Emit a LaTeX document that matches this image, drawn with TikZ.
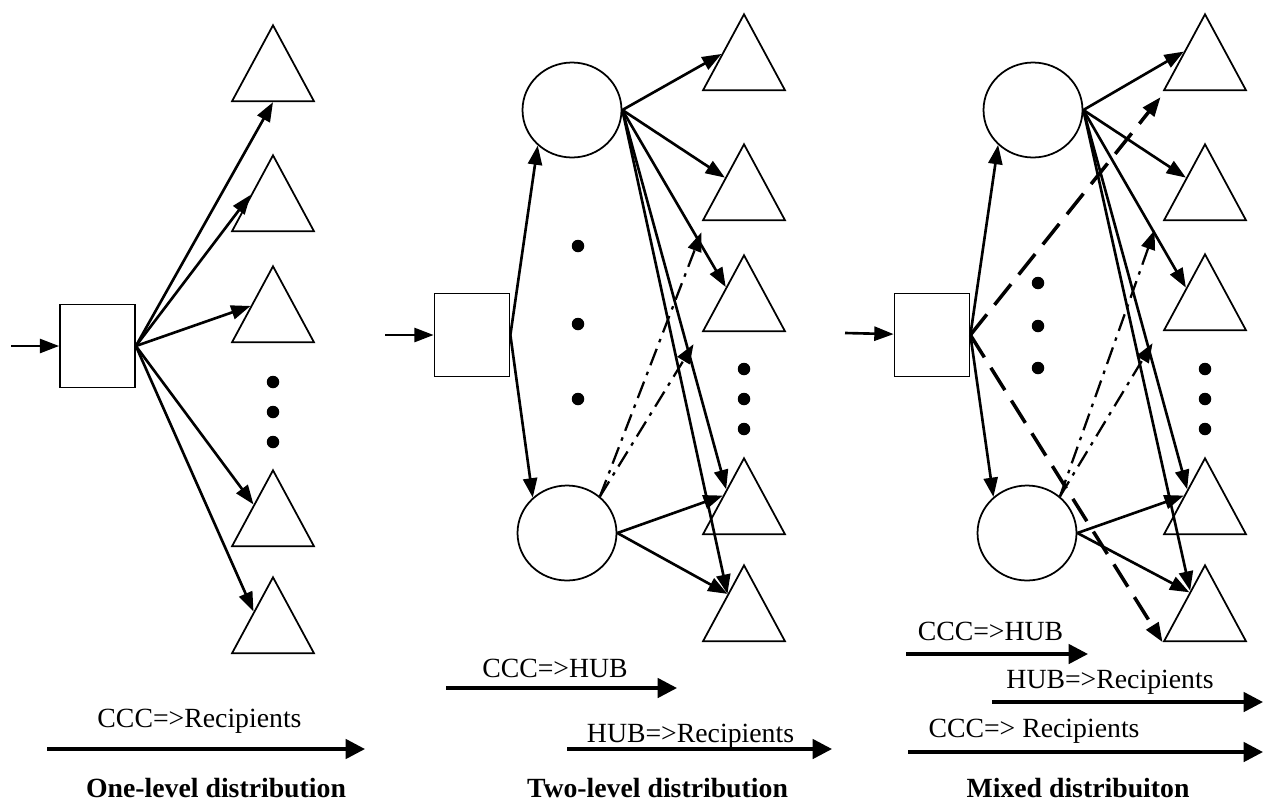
\documentclass[tikz,border=0pt]{standalone}
\usepackage{fontspec}
\setmainfont{Liberation Serif}
\usetikzlibrary{arrows.meta,shapes.geometric,calc}

\begin{document}
\begin{tikzpicture}[x=0.02cm, y=-0.02cm,
    box/.style={draw, line width=1pt, minimum width=1.5cm, minimum height=1.66cm, inner sep=0pt},
    hub/.style={draw, ellipse, line width=1pt, minimum width=1.98cm, minimum height=1.9cm, inner sep=0pt},
    rcp/.style={draw, isosceles triangle, isosceles triangle stretches, shape border rotate=90,
                minimum width=1.64cm, minimum height=1.52cm, inner sep=0pt, line width=1pt, anchor=apex},
    dot/.style={circle, fill, inner sep=0pt, minimum size=0.25cm},
    arr/.style={-{Triangle[length=11pt,width=8pt]}, line width=1.5pt},
    dd/.style={arr, line width=1.3pt, dash pattern=on 10pt off 4pt on 2pt off 4pt},
    ld/.style={arr, line width=2pt, dash pattern=on 15pt off 7pt},
    leg/.style={-{Triangle[length=11pt,width=11pt]}, line width=2pt},
    lbl/.style={font=\fontsize{15.8}{19}\selectfont, inner sep=0pt, anchor=base},
    ttl/.style={lbl, font=\fontsize{15.8}{19}\selectfont\bfseries}
]
\useasboundingbox (0,0) rectangle (1266,805);

% one-level
\coordinate (in1) at (11,346);
\node[box] (ccc1) at (97.5,346) {};
\node[rcp] (a1) at (273,23) {};
\node[rcp] (a2) at (273,153) {};
\node[rcp] (a3) at (273,264) {};
\node[rcp] (a4) at (273,468) {};
\node[rcp] (a5) at (273,575) {};
\foreach \y [count=\i] in {382,412,442} \node[dot] (p\i) at (273,\y) {};
\draw[arr] (in1) -- (ccc1);
\draw[arr] (ccc1.east) -- ($(a1.left corner)!0.5!(a1.right corner)$);
\foreach \t/\f in {a2/0.53, a3/0.53, a4/0.46, a5/0.46}
    \draw[arr] (ccc1.east) -- ($(\t.apex)!\f!(\t.left corner)$);

% two-level
\coordinate (in2) at (385,335);
\node[box] (ccc2) at (472,335) {};
\node[hub] (h1) at (572,110) {};
\node[hub] (h2) at (567,533) {};
\node[rcp] (b1) at (744,12) {};
\node[rcp] (b2) at (744,142) {};
\node[rcp] (b3) at (744,253) {};
\node[rcp] (b4) at (744,456) {};
\node[rcp] (b5) at (744,563) {};
\foreach \y [count=\i] in {246,324,399} \node[dot] (q\i) at (578,\y) {};
\foreach \y [count=\i] in {369,399,429} \node[dot] (r\i) at (744,\y) {};
\draw[arr] (in2) -- (ccc2);
\draw[arr] (ccc2.east) -- (h1.226);
\draw[arr] (ccc2.east) -- (h2.134);
\foreach \t/\f in {b1/0.53, b2/0.45, b3/0.43, b4/0.42, b5/0.39}
    \draw[arr] (h1.east) -- ($(\t.apex)!\f!(\t.left corner)$);
\foreach \t/\f in {b4/0.5, b5/0.39}
    \draw[arr] (h2.east) -- ($(\t.apex)!\f!(\t.left corner)$);
\draw[dd] (h2.48) -- ([shift={(0,11)}]b2.left corner);
\draw[dd] (h2.48) -- ([shift={(-8,12)}]b3.left corner);

% mixed
\coordinate (in3) at (845,333);
\node[box] (ccc3) at (932,335) {};
\node[hub] (k1) at (1033,110) {};
\node[hub] (k2) at (1027,533) {};
\node[rcp] (c1) at (1205,12) {};
\node[rcp] (c2) at (1205,142) {};
\node[rcp] (c3) at (1205,252) {};
\node[rcp] (c4) at (1205,456) {};
\node[rcp] (c5) at (1205,563) {};
\foreach \y [count=\i] in {283,326,368} \node[dot] (u\i) at (1038,\y) {};
\foreach \y [count=\i] in {369,399,429} \node[dot] (v\i) at (1205,\y) {};
\draw[arr] (in3) -- (ccc3);
\draw[arr] (ccc3.east) -- (k1.225);
\draw[arr] (ccc3.east) -- (k2.133);
\draw[ld] (ccc3.east) -- ([shift={(-2,6)}]c1.left corner);
\draw[ld] (ccc3.east) -- (c5.left corner);
\foreach \t/\f in {c1/0.5, c2/0.45, c3/0.45, c4/0.42, c5/0.35}
    \draw[arr] (k1.east) -- ($(\t.apex)!\f!(\t.left corner)$);
\foreach \t/\f in {c4/0.5, c5/0.37}
    \draw[arr] (k2.east) -- ($(\t.apex)!\f!(\t.left corner)$);
\draw[dd] (k2.48) -- ([shift={(-8,9)}]c2.left corner);
\draw[dd] (k2.48) -- ([shift={(-10,12)}]c3.left corner);

% legends
\coordinate (s1) at (47,749);
\coordinate (e1) at (365,749);
\draw[leg] (s1) -- (e1);
\node[lbl] (t1) at (199.5,727) {CCC=>Recipients};
\node[ttl] (n1) at (216,797) {One-level distribution};

\coordinate (s2) at (446,688);
\coordinate (e2) at (677,688);
\draw[leg] (s2) -- (e2);
\node[lbl] (t2) at (555,677) {CCC=>HUB};
\coordinate (s3) at (567,749);
\coordinate (e3) at (832,749);
\draw[leg] (s3) -- (e3);
\node[lbl] (t3) at (690.5,742) {HUB=>Recipients};
\node[ttl] (n2) at (657.5,797) {Two-level distribution};

\coordinate (s4) at (906,654);
\coordinate (e4) at (1088,654);
\draw[leg] (s4) -- (e4);
\node[lbl] (t4) at (990.5,640) {CCC=>HUB};
\coordinate (s5) at (992,702);
\coordinate (e5) at (1263,702);
\draw[leg] (s5) -- (e5);
\node[lbl] (t5) at (1110,688) {HUB=>Recipients};
\coordinate (s6) at (908,752);
\coordinate (e6) at (1263,752);
\draw[leg] (s6) -- (e6);
\node[lbl] (t6) at (1034,737) {CCC=> Recipients};
\node[ttl] (n3) at (1078,797) {Mixed distribuiton};
\end{tikzpicture}
\end{document}
